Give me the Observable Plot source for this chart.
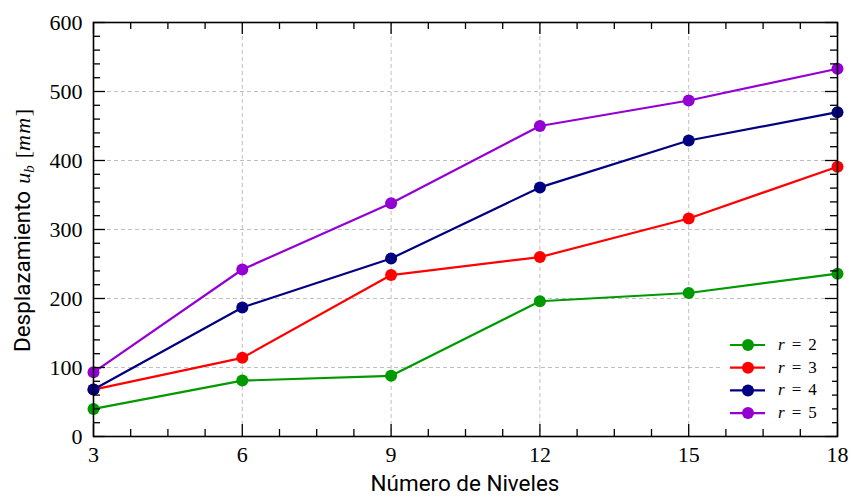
<!DOCTYPE html>
<html><head><meta charset="utf-8">
<script src="https://cdn.jsdelivr.net/npm/d3@7"></script>
<script src="https://cdn.jsdelivr.net/npm/@observablehq/plot@0.6"></script>
<style>body{margin:0;background:#fff} svg{display:block}</style>
</head><body><div id="chart"></div>
<script>
const levels = [3, 6, 9, 12, 15, 18];
const rValues = [2, 3, 4, 5];
const r2 = [40, 81, 88, 196, 208, 236];
const r3 = [68, 114, 234, 260, 316, 391];
const r4 = [68, 187, 258, 361, 429, 470];
const r5 = [93, 242, 338, 450, 487, 533];
const colors = ["#009a00", "#ff0000", "#000080", "#9400d3"];
const xTicks = [3, 6, 9, 12, 15, 18];
const yTicks = [0, 100, 200, 300, 400, 500, 600];
const xMinor = d3.range(3, 18.01, 0.75).filter(v => v % 3 !== 0);
const yMinor = d3.range(0, 601, 20).filter(v => v % 100 !== 0);
const xLabel = "Número de Niveles";
const yLabelText = "Desplazamiento";

const seriesNames = rValues.map(r => "r = " + r);
const allSeries = [r2, r3, r4, r5];
const data = [];
allSeries.forEach((arr, i) => arr.forEach((v, j) => data.push({n: levels[j], u: v, r: seriesNames[i]})));

const W = 851, H = 497, mL = 93, mR = 14, mT = 22, mB = 61;
const pw = W - mL - mR, ph = H - mT - mB;
const xDom = [3, 18], yDom = [0, 600];
const gridStyle = {stroke: "#b8b8b8", strokeOpacity: 1, strokeDasharray: "4,3", strokeWidth: 0.9};
const majorLen = 12, minorLen = 7;

const seriesMarks = seriesNames.flatMap(name => {
  const d = data.filter(e => e.r === name);
  return [
    Plot.line(d, {x: "n", y: "u", stroke: "r", strokeWidth: 2.2}),
    Plot.dot(d, {x: "n", y: "u", fill: "r", r: 6})
  ];
});

const tk = {stroke: "black", strokeWidth: 1.3};
const tickMarks = [
  Plot.ruleX(xTicks, {...tk, insetTop: ph - majorLen}),
  Plot.ruleX(xTicks, {...tk, insetBottom: ph - majorLen}),
  Plot.ruleX(xMinor, {...tk, insetTop: ph - minorLen}),
  Plot.ruleX(xMinor, {...tk, insetBottom: ph - minorLen}),
  Plot.ruleY(yTicks, {...tk, insetRight: pw - majorLen}),
  Plot.ruleY(yTicks, {...tk, insetLeft: pw - majorLen}),
  Plot.ruleY(yMinor, {...tk, insetRight: pw - minorLen}),
  Plot.ruleY(yMinor, {...tk, insetLeft: pw - minorLen})
];

const plot = Plot.plot({
  width: W, height: H, marginLeft: mL, marginRight: mR, marginTop: mT, marginBottom: mB,
  style: {fontFamily: "'Liberation Serif', serif", fontSize: "22px", background: "#fff"},
  x: {domain: xDom},
  y: {domain: yDom},
  color: {domain: seriesNames, range: colors},
  marks: [
    Plot.gridX(xTicks.slice(1, -1), gridStyle),
    Plot.gridY(yTicks.slice(1, -1), gridStyle),
    ...seriesMarks,
    ...tickMarks,
    Plot.frame({stroke: "black", strokeWidth: 1.6}),
    Plot.axisX(xTicks, {tickSize: 0, tickPadding: 10, label: null, fontSize: 22, fill: "black"}),
    Plot.axisY(yTicks, {tickSize: 0, tickPadding: 11, label: null, fontSize: 22, fill: "black"})
  ]
});
document.getElementById("chart").appendChild(plot);

const svg = d3.select(plot);
const sans = "Roboto, 'DejaVu Sans', sans-serif";
const serif = "'Liberation Serif', serif";
// x axis label, sized so it spans ~190px like the reference
const xl = svg.append("text")
  .attr("x", mL + pw / 2).attr("y", H - 6)
  .attr("text-anchor", "middle")
  .attr("font-family", sans).attr("font-size", 20)
  .attr("fill", "#000").text(xLabel);
const xlen = xl.node().getComputedTextLength();
const sansSize = xlen > 0 ? 20 * 189 / xlen : 20;
xl.attr("font-size", sansSize);

// y axis label (rotated; starts at the bottom)
const yl = svg.append("text")
  .attr("transform", `translate(30,${352}) rotate(-90)`)
  .attr("text-anchor", "start").attr("fill", "#000").attr("font-size", 22);
yl.append("tspan").attr("font-family", sans).attr("font-size", sansSize).text(yLabelText);
yl.append("tspan").attr("font-family", serif).attr("font-style", "italic").attr("dx", 7).text("u");
yl.append("tspan").attr("font-family", serif).attr("font-style", "italic").attr("font-size", 15).attr("dy", 4).text("b");
yl.append("tspan").attr("font-family", serif).attr("dy", -4).attr("dx", 7).text("[");
yl.append("tspan").attr("font-family", serif).attr("font-style", "italic").attr("letter-spacing", 1.5).text("mm");
yl.append("tspan").attr("font-family", serif).text("]");

// legend
const lg = svg.append("g").attr("text-anchor", "start");
lg.append("rect").attr("x", 722).attr("y", 333).attr("width", 110).attr("height", 93).attr("rx", 3).attr("fill", "#fff");
seriesNames.forEach((name, i) => {
  const cy = 345 + i * 22.7;
  lg.append("line").attr("x1", 730).attr("x2", 765).attr("y1", cy).attr("y2", cy)
    .attr("stroke", colors[i]).attr("stroke-width", 2.2);
  lg.append("circle").attr("cx", 748).attr("cy", cy).attr("r", 6).attr("fill", colors[i]);
  const t = lg.append("text").attr("x", 778).attr("y", cy + 5).attr("text-anchor", "start")
    .attr("font-family", serif).attr("font-size", 17).attr("fill", "#000");
  t.append("tspan").attr("font-style", "italic").text("r");
  t.append("tspan").attr("dx", 7).text("=");
  t.append("tspan").attr("dx", 7).text(String(rValues[i]));
});
</script>
</body></html>
